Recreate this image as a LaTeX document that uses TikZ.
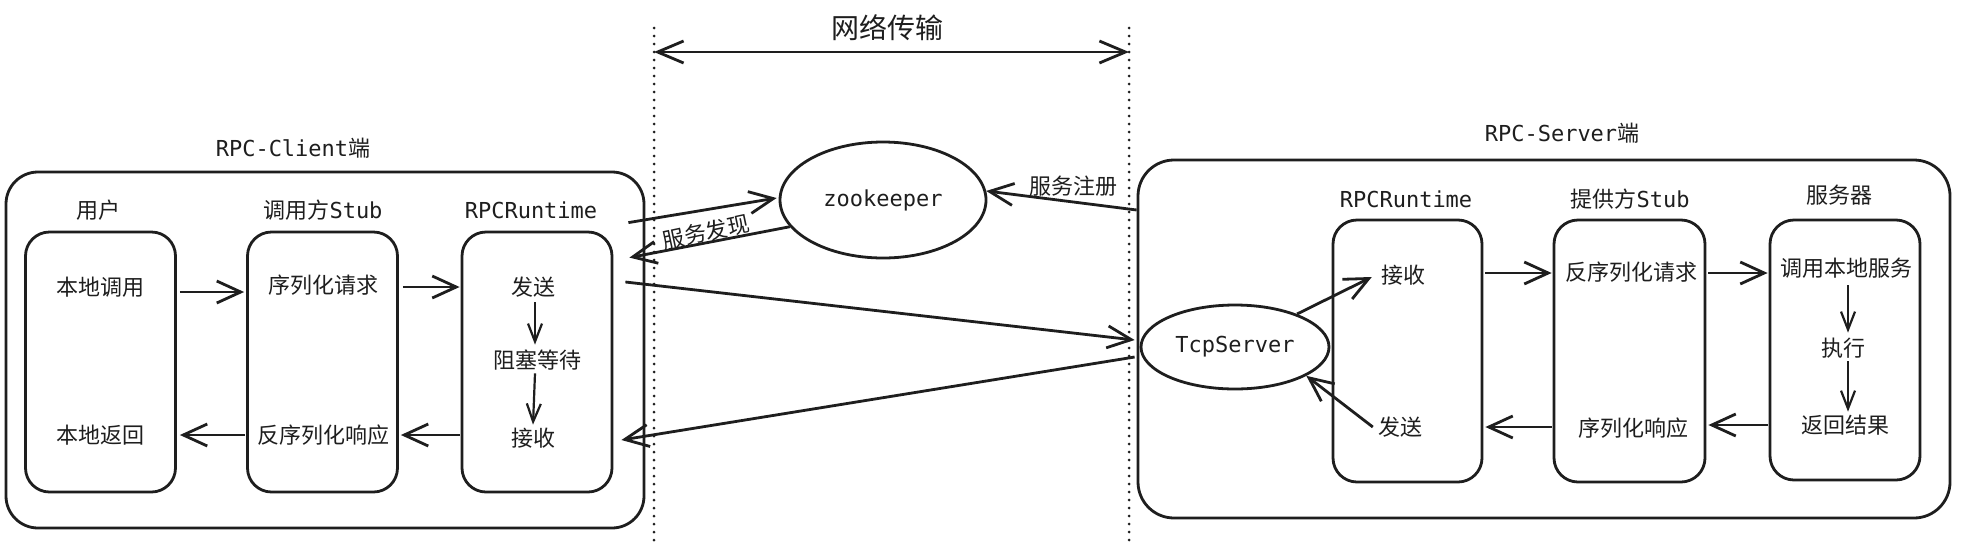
\documentclass[tikz,border=0pt]{standalone}
\usepackage{fontspec}
\newfontfamily\cjk{Noto Sans CJK SC}
\newfontfamily\mono{DejaVu Sans Mono}
\usetikzlibrary{arrows.meta,shapes.geometric,calc}
\definecolor{ink}{RGB}{30,30,30}
\newcommand\myfs{\fontsize{22pt}{26pt}\selectfont}
\newcommand\bigfs{\fontsize{28pt}{32pt}\selectfont}
\begin{document}
\begin{tikzpicture}[x=1pt,y=-1pt,
  box/.style={draw=ink,line width=2.8pt,rounded corners=24pt,minimum width=150pt,minimum height=260pt,inner sep=0pt},
  outer/.style={draw=ink,line width=2.8pt,rounded corners=32pt,inner sep=0pt},
  ell/.style={draw=ink,line width=2.8pt,ellipse,inner sep=0pt},
  lbl/.style={text=ink,font=\cjk\myfs,inner sep=1pt},
  arr/.style={draw=ink,line width=2.8pt,-{Straight Barb[length=24pt,width=22pt]}},
  arrs/.style={draw=ink,line width=2.2pt,-{Straight Barb[length=18pt,width=14pt]}},
  dbl/.style={draw=ink,line width=2.8pt,{Straight Barb[length=26pt,width=22pt]}-{Straight Barb[length=26pt,width=22pt]}},
  dotline/.style={draw=ink,line width=3pt,line cap=round,dash pattern=on 0pt off 8pt}
]
\useasboundingbox[fill=white] (0,0) rectangle (1961,547);

% network lines
\coordinate (d1t) at (654,28); \coordinate (d1b) at (654,547);
\coordinate (d2t) at (1129,28); \coordinate (d2b) at (1129,547);
\draw[dotline] (d1t) -- (d1b);
\draw[dotline] (d2t) -- (d2b);
\coordinate (na) at (654,52); \coordinate (nb) at (1129,52);
\draw[dbl] (na) -- (nb);
\node[lbl,font=\cjk\bigfs] (net) at (887,28) {网络传输};

% client
\node[lbl] (cT) at (293,148) {{\mono RPC-Client}端};
\node[outer,minimum width=638pt,minimum height=356pt] (cbox) at (325,350) {};
\node[box] (ubox) at (100.5,362) {};
\node[box] (sbox) at (322.5,362) {};
\node[box] (crt) at (537,362) {};
\node[lbl] (uL) at (98,210) {用户};
\node[lbl] (sL) at (323,210) {调用方{\mono Stub}};
\node[lbl] (rL) at (531,210) {\mono RPCRuntime};
\node[lbl] (tA) at (100,287) {本地调用};
\node[lbl] (tB) at (100,435) {本地返回};
\node[lbl] (tC) at (323,285) {序列化请求};
\node[lbl] (tD) at (323,435) {反序列化响应};
\node[lbl] (tE) at (533,287) {发送};
\node[lbl] (tF) at (537,360) {阻塞等待};
\node[lbl] (tG) at (533,438) {接收};

\draw[arr] ($(ubox.east|-tA)+(3,5)$) -- ($(sbox.west|-tA)+(-2,5)$);
\draw[arr] ($(sbox.east|-tC)+(4,2)$) -- ($(crt.west|-tC)+(-1,2)$);
\draw[arr] ($(crt.west|-tD)+(-1,0)$) -- ($(sbox.east|-tD)+(2,0)$);
\draw[arr] ($(sbox.west|-tD)+(-1,0)$) -- ($(ubox.east|-tD)+(3,0)$);
\draw[arrs] ($(tE.south)+(2,4)$) -- ($(tF.north)+(-2,-4)$);
\draw[arrs] ($(tF.south)+(-2,2)$) -- ($(tG.north)+(0,-2)$);

% zookeeper and tcp server
\node[ell,minimum width=206pt,minimum height=116pt,font=\mono\myfs,text=ink] (zk) at (883,200) {zookeeper};
\node[ell,minimum width=188pt,minimum height=84pt,font=\mono\myfs,text=ink] (tcp) at (1235,347) {TcpServer};

\draw[arr] ($(crt.north east)+(15,-8)$) -- ($(zk.west)+(-2,-2)$);
\draw[arr] (zk.196) -- ($(crt.north east)+(16,27)$);
\node[lbl,rotate=12] (disc) at (706,232) {服务发现};
\draw[arr] ($(cbox.east|-tD)+(-20,-153)$) -- ($(tcp.west)+(-5,-7)$);
\draw[arr] ($(tcp.west)+(-5,10)$) -- ($(crt.east)+(8,78)$);

% server
\node[lbl] (sT) at (1562,133) {{\mono RPC-Server}端};
\node[outer,minimum width=812pt,minimum height=358pt,rounded corners=36pt] (svbox) at (1544,339) {};
\node[box,minimum width=149pt,minimum height=262pt] (srt) at (1407.5,351) {};
\node[box,minimum width=151pt,minimum height=262pt] (pst) at (1629.5,351) {};
\node[box,minimum width=150pt,minimum height=260pt] (svc) at (1845,350) {};
\node[lbl] (srL) at (1406,199) {\mono RPCRuntime};
\node[lbl] (psL) at (1630,199) {提供方{\mono Stub}};
\node[lbl] (svL) at (1839,195) {服务器};
\node[lbl] (rcv) at (1403,275) {接收};
\node[lbl] (snd) at (1400,427) {发送};
\node[lbl] (tR1) at (1631,272) {反序列化请求};
\node[lbl] (tR2) at (1633,428) {序列化响应};
\node[lbl] (tS1) at (1846,268) {调用本地服务};
\node[lbl] (tS2) at (1843,348) {执行};
\node[lbl] (tS3) at (1845,425) {返回结果};

\draw[arr] ($(svbox.west|-tR1)+(0,-62)$) -- (zk.5);
\node[lbl] (reg) at (1073,186) {服务注册};

\draw[arr] ($(srt.east|-tR1)+(2,1)$) -- ($(pst.west|-tR1)+(-1,1)$);
\draw[arr] ($(pst.east|-tR1)+(2,1)$) -- ($(svc.west|-tR1)+(-1,1)$);
\draw[arr] ($(svc.west|-tS3)+(-1,0)$) -- ($(pst.east|-tS3)+(2,0)$);
\draw[arr] ($(pst.west|-tR2)+(-1,-1)$) -- ($(srt.east|-tR2)+(2,-1)$);
\draw[arrs] ($(tS1.south)+(2,6)$) -- ($(tS2.north)+(5,-4)$);
\draw[arrs] ($(tS2.south)+(5,2)$) -- ($(tS3.north)+(3,-2)$);

\draw[arr] (tcp.28) -- ($(rcv.west)+(-8,2)$);
\draw[arr] ($(snd.west)+(-4,0)$) -- (tcp.-22);
\end{tikzpicture}
\end{document}
